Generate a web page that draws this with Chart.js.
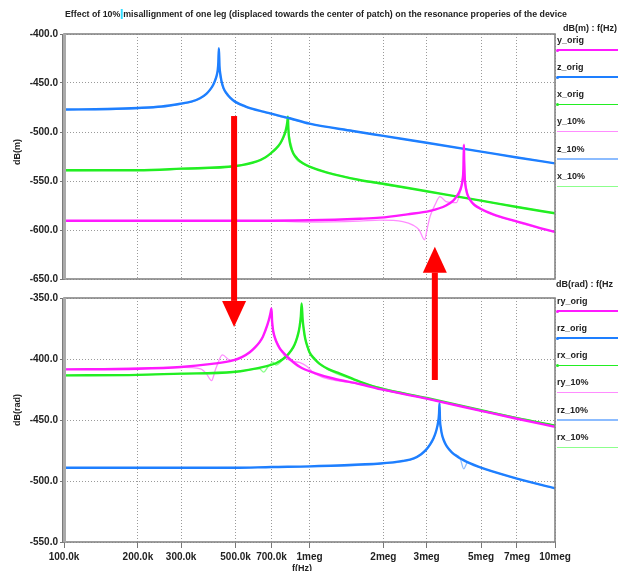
<!DOCTYPE html>
<html>
<head>
<meta charset="utf-8">
<script src="https://cdn.jsdelivr.net/npm/chart.js@4.4.0/dist/chart.umd.min.js"></script>
<style>
  html, body { margin: 0; padding: 0; background: #fff; }
  #page { position: relative; width: 618px; height: 571px; overflow: hidden;
          font-family: "Liberation Sans", Arial, sans-serif; font-weight: bold; color: #222; }
  #page canvas { position: absolute; left: 0; }
  #top-chart { top: 0; }
  #bottom-chart { top: 290px; }
  #arrows { top: 0; pointer-events: none; }
  .txt { position: absolute; white-space: nowrap; font-size: 9px; line-height: 10px; }
  .rot { transform: translate(-50%, -50%) rotate(-90deg); }
  .legend-line { position: absolute; height: 1.5px; }
  .legend-dot { position: absolute; width: 3px; height: 3px; border-radius: 50%; }
  #title .cursor { display: inline-block; width: 2px; height: 10px; background: #33ddff; vertical-align: -2px; margin: 0 1px 0 0; }
</style>
</head>
<body>
<div id="page">
  <canvas id="top-chart" width="618" height="290"></canvas>
  <canvas id="bottom-chart" width="618" height="281"></canvas>
  <canvas id="arrows" width="618" height="571"></canvas>
  <div id="title" class="txt" style="left:65px; top:9px;">Effect of 10%<span class="cursor"></span>misallignment of one leg (displaced towards the center of patch) on the resonance properies of the device</div>
  <div class="txt" style="right:1px; top:23px;">dB(m) : f(Hz)</div>
  <div class="txt" style="left:556px; top:279px;">dB(rad) : f(Hz</div>
  <div class="txt rot" style="left:17px; top:152px;">dB(m)</div>
  <div class="txt rot" style="left:17px; top:410px;">dB(rad)</div>
  <div class="txt" style="left:302px; top:563px; transform:translateX(-50%);">f(Hz)</div>
  <div id="legend-top"></div>
  <div id="legend-bottom"></div>
</div>
<script>
// x axis (log frequency)
const xTickVals = [1e5, 2e5, 3e5, 5e5, 7e5, 1e6, 2e6, 3e6, 5e6, 7e6, 1e7];
const xTickLabels = ['100.0k', '200.0k', '300.0k', '500.0k', '700.0k', '1meg', '2meg', '3meg', '5meg', '7meg', '10meg'];

// series names / colours (orig first, 10% after)
const topNames = ['y_orig', 'z_orig', 'x_orig', 'y_10%', 'z_10%', 'x_10%'];
const bottomNames = ['ry_orig', 'rz_orig', 'rx_orig', 'ry_10%', 'rz_10%', 'rx_10%'];
const lineColors = ['#ff1aff', '#1e7fff', '#22ee22', '#ff8cff', '#8cbcff', '#8cff8c'];

// ---- top panel dB(m) ----
const yOrigF = [1e5, 5e5, 1e6, 1.6e6, 1.94e6, 2.5e6, 3.1e6, 3.6e6, 3.85e6, 3.97e6, 4.08e6, 4.15e6, 4.2e6, 4.235e6, 4.255e6, 4.265e6, 4.28e6, 4.3e6, 4.34e6, 4.4e6, 4.5e6, 4.7e6, 4.95e6, 5.6e6, 6.7e6, 8.7e6, 1e7];
const yOrigV = [-590.5, -590.5, -590, -588.5, -587.4, -584, -580.5, -575, -570, -566, -561, -556, -549, -538, -513, -528, -542, -551, -558, -564, -569, -574.5, -578, -584, -590, -598, -602];

const zOrigF = [1e5, 1.5e5, 2e5, 2.5e5, 3e5, 3.3e5, 3.58e5, 3.8e5, 3.93e5, 4.05e5, 4.13e5, 4.19e5, 4.23e5, 4.255e5, 4.275e5, 4.3e5, 4.34e5, 4.38e5, 4.46e5, 4.59e5, 4.75e5, 4.97e5, 5.5e5, 6.48e5, 8.32e5, 1e6, 1.5e6, 2e6, 3e6, 5e6, 7e6, 1e7];
const zOrigV = [-477, -476.5, -475.5, -474, -471, -469, -465.6, -461, -457, -452, -447, -442, -436.7, -428, -414.6, -433, -442, -448, -455, -460.5, -465, -469, -474, -479.3, -486, -491.5, -499, -504, -511, -520, -526, -532];

const xOrigF = [1e5, 2e5, 3e5, 5e5, 6.1e5, 6.6e5, 6.93e5, 7.3e5, 7.6e5, 7.8e5, 7.95e5, 8.05e5, 8.12e5, 8.165e5, 8.19e5, 8.22e5, 8.27e5, 8.35e5, 8.45e5, 8.6e5, 8.9e5, 9.4e5, 1e6, 1.18e6, 1.6e6, 1.94e6, 3e6, 5e6, 7e6, 1e7];
const xOrigV = [-539, -539, -537.4, -534.7, -530, -526, -522, -517, -511.5, -506, -501, -495.5, -490, -484.5, -493, -501, -507, -513, -517.5, -522, -527, -532, -535.4, -541.5, -549, -552.3, -560.5, -570, -576.5, -583];

const y10F = [1e5, 7e5, 1e6, 1.6e6, 1.94e6, 2.4e6, 2.64e6, 2.8e6, 2.94e6, 3.02e6, 3.1e6, 3.25e6, 3.4e6, 3.6e6, 3.97e6, 4.1e6, 4.18e6, 4.225e6, 4.25e6, 4.262e6, 4.275e6, 4.3e6, 4.34e6, 4.4e6, 4.5e6, 4.95e6, 6.7e6, 8.7e6, 1e7];
const y10V = [-591, -591, -592, -591, -590, -591.5, -595, -600, -610, -598, -586, -574, -566, -571, -572, -562, -553, -542, -530, -516, -530, -545, -555, -563, -569.5, -578.5, -590.5, -598.5, -602.5];

const z10F = [1e5, 2e5, 3e5, 3.58e5, 3.93e5, 4.12e5, 4.2e5, 4.24e5, 4.265e5, 4.28e5, 4.31e5, 4.37e5, 4.46e5, 4.59e5, 4.97e5, 6.48e5, 1e6, 2e6, 3e6, 5e6, 1e7];
const z10V = [-477.5, -476, -471.5, -466, -457.5, -448, -441, -433, -418, -431, -441, -448, -455.5, -461, -469.5, -479.5, -491.5, -504, -511, -520, -532];

const x10F = [1e5, 3e5, 5e5, 6.1e5, 6.93e5, 7.6e5, 7.95e5, 8.07e5, 8.14e5, 8.175e5, 8.21e5, 8.3e5, 8.45e5, 8.6e5, 9.4e5, 1e6, 1.6e6, 3e6, 1e7];
const x10V = [-539.5, -537.8, -535, -530, -522.5, -512, -502, -495, -490, -487, -497, -506, -514, -522.5, -532.5, -535.6, -549, -560.5, -583];

// ---- bottom panel dB(rad) ----
const ryOrigF = [1e5, 2e5, 3e5, 4e5, 4.88e5, 5.3e5, 5.71e5, 6.0e5, 6.25e5, 6.45e5, 6.6e5, 6.75e5, 6.87e5, 6.95e5, 7.0e5, 7.04e5, 7.1e5, 7.2e5, 7.35e5, 7.55e5, 7.8e5, 8.3e5, 9.15e5, 1.05e6, 1.25e6, 1.6e6, 1.94e6, 3e6, 5e6, 7e6, 1e7];
const ryOrigV = [-408.5, -408, -406.6, -404, -401.2, -398.5, -394.5, -390.5, -386.4, -382, -377, -371.5, -366, -361.5, -358.5, -369, -376, -381.5, -386.5, -391, -394.5, -400, -406.6, -411.5, -416, -420.5, -424.7, -432.5, -442.5, -449, -455.5];

const rzOrigF = [1e5, 5e5, 7e5, 1e6, 1.6e6, 1.94e6, 2.4e6, 2.66e6, 2.85e6, 2.98e6, 3.1e6, 3.2e6, 3.28e6, 3.34e6, 3.37e6, 3.385e6, 3.4e6, 3.43e6, 3.47e6, 3.53e6, 3.62e6, 3.8e6, 4.2e6, 4.9e6, 7e6, 1e7];
const rzOrigV = [-489.2, -489.2, -488.5, -488, -486.5, -485.7, -483.5, -481.4, -478, -474.5, -470, -465, -459, -452, -445, -436.3, -450, -457, -462.5, -467, -471.5, -476.5, -482.5, -488.5, -498, -506];

const rxOrigF = [1e5, 2e5, 3e5, 4.88e5, 6.7e5, 7.3e5, 7.8e5, 8.2e5, 8.58e5, 8.8e5, 9e5, 9.12e5, 9.22e5, 9.29e5, 9.38e5, 9.48e5, 9.6e5, 9.8e5, 1.0e6, 1.05e6, 1.1e6, 1.2e6, 1.33e6, 1.6e6, 1.94e6, 3e6, 5e6, 7e6, 1e7];
const rxOrigV = [-413.4, -413, -412, -410.7, -405.8, -403.5, -400, -396, -390.5, -385.5, -379, -373, -365, -354.5, -368, -376, -383, -389.5, -394.5, -400, -404, -408.5, -412, -418.5, -424, -432, -442, -448.5, -454.5];

const ry10F = [1e5, 3e5, 3.6e5, 3.8e5, 3.99e5, 4.15e5, 4.42e5, 4.75e5, 5.2e5, 5.71e5, 6.25e5, 6.6e5, 6.87e5, 6.97e5, 7.01e5, 7.05e5, 7.12e5, 7.22e5, 7.55e5, 8e5, 8.58e5, 9.15e5, 9.74e5, 1.05e6, 1.6e6, 3e6, 1e7];
const ry10V = [-408.5, -406.8, -408, -412, -417.7, -408, -396.7, -401, -399.5, -394.5, -386.8, -377.5, -366.5, -362.5, -360, -369, -376.5, -381.5, -390, -399, -402, -403, -406, -412, -420.5, -432.5, -455.5];

const rz10F = [1e5, 1e6, 1.94e6, 2.66e6, 2.98e6, 3.1e6, 3.2e6, 3.28e6, 3.34e6, 3.37e6, 3.385e6, 3.4e6, 3.43e6, 3.47e6, 3.53e6, 3.8e6, 4.1e6, 4.25e6, 4.4e6, 4.9e6, 7e6, 1e7];
const rz10V = [-489.4, -488.2, -485.9, -481.6, -475, -470.5, -465.5, -459.5, -452.5, -445.5, -439, -450.5, -457.5, -463, -467.5, -476.7, -481, -490, -485, -488.7, -498.2, -506.2];

const rx10F = [1e5, 3e5, 4.88e5, 6.25e5, 6.5e5, 6.8e5, 7.1e5, 7.3e5, 7.8e5, 8.58e5, 8.8e5, 9e5, 9.12e5, 9.22e5, 9.29e5, 9.38e5, 9.48e5, 9.6e5, 1.0e6, 1.1e6, 1.6e6, 3e6, 1e7];
const rx10V = [-413.6, -412.2, -410.9, -408, -410.7, -406, -402.6, -405, -400.5, -391, -386, -379.5, -373.5, -366, -357, -368.5, -376.5, -383.5, -395, -404.2, -418.6, -432.1, -454.6];

// annotation arrows: freq, start panel/value, end (tip) panel/value
const arrowFreqs = [4.93e5, 3.24e6];
const arrowFrom = [['top', -483.7], ['bottom', -417.2]];
const arrowTo = [['bottom', -373.7], ['top', -617]];

const pts = (f, v) => f.map((x, i) => ({ x: x, y: v[i] }));

function makeDatasets(names, series) {
  return series.map((s, i) => ({
    label: names[i],
    data: pts(s[0], s[1]),
    borderColor: lineColors[i],
    backgroundColor: lineColors[i],
    borderWidth: i < 3 ? 2.4 : 1.3,
    pointRadius: 0,
    cubicInterpolationMode: 'monotone',
    fill: false
  }));
}

const tickFont = { family: 'Liberation Sans', size: 10, weight: 'bold' };

// gray frame round the plot, thick bar at the left
const framePlugin = {
  id: 'frame',
  afterDatasetsDraw(chart) {
    const { ctx, chartArea: a } = chart;
    ctx.save();
    ctx.strokeStyle = '#858585';
    ctx.lineWidth = 1.6;
    ctx.strokeRect(a.left, a.top, a.right - a.left, a.bottom - a.top);
    ctx.fillStyle = '#aaaaaa';
    ctx.fillRect(a.left - 2, a.top, 4, a.bottom - a.top);
    ctx.fillStyle = '#7a7a7a';
    ctx.fillRect(a.left - 2, a.top, 1, a.bottom - a.top);
    ctx.restore();
  }
};

function makeChart(canvas, datasets, yMin, yMax, showX) {
  return new Chart(canvas, {
    type: 'line',
    data: { datasets: datasets },
    plugins: [framePlugin],
    options: {
      responsive: false,
      animation: false,
      layout: { padding: showX ? { top: 5, right: 63, bottom: 0, left: 0 } : { top: 34, right: 63, bottom: 11, left: 0 } },
      plugins: { legend: { display: false }, tooltip: { enabled: false } },
      scales: {
        x: {
          type: 'logarithmic',
          min: 1e5,
          max: 1e7,
          afterBuildTicks: scale => { scale.ticks = xTickVals.map(v => ({ value: v })); },
          afterFit: scale => { scale.height = showX ? 29 : 0; },
          border: { display: false, dash: [1, 2] },
          grid: { color: '#9a9a9a', borderDash: [1, 2], lineWidth: 1, drawTicks: showX, tickLength: 6,
                  tickColor: '#777', tickBorderDash: [] },
          ticks: {
            display: showX,
            autoSkip: false,
            maxRotation: 0,
            padding: 3,
            color: '#222',
            font: tickFont,
            callback: (val, idx) => xTickLabels[idx]
          }
        },
        y: {
          min: yMin,
          max: yMax,
          afterFit: scale => { scale.width = 64; },
          border: { display: false, dash: [1, 2] },
          grid: { color: '#9a9a9a', borderDash: [1, 2], lineWidth: 1, tickLength: 4,
                  tickColor: '#777', tickBorderDash: [] },
          ticks: { stepSize: 50, padding: 2, color: '#222', font: tickFont, callback: v => v.toFixed(1) }
        }
      }
    }
  });
}

const topChart = makeChart(document.getElementById('top-chart'),
  makeDatasets(topNames, [[yOrigF, yOrigV], [zOrigF, zOrigV], [xOrigF, xOrigV], [y10F, y10V], [z10F, z10V], [x10F, x10V]]),
  -650, -400, false);

const bottomChart = makeChart(document.getElementById('bottom-chart'),
  makeDatasets(bottomNames, [[ryOrigF, ryOrigV], [rzOrigF, rzOrigV], [rxOrigF, rxOrigV], [ry10F, ry10V], [rz10F, rz10V], [rx10F, rx10V]]),
  -550, -350, true);

// legend blocks at the right of each panel
function buildLegend(el, names, top) {
  names.forEach((name, i) => {
    const y = top + i * 27.3;
    const label = document.createElement('div');
    label.className = 'txt';
    label.style.left = '557px';
    label.style.top = (y - 5) + 'px';
    label.textContent = name;
    el.appendChild(label);
    const line = document.createElement('div');
    line.className = 'legend-line';
    line.style.left = '557px';
    line.style.width = '61px';
    line.style.top = (y + 9.5) + 'px';
    line.style.background = lineColors[i];
    el.appendChild(line);
    if (i < 3) {
      const dot = document.createElement('div');
      dot.className = 'legend-dot';
      dot.style.left = '556px';
      dot.style.top = (y + 9) + 'px';
      dot.style.background = lineColors[i];
      el.appendChild(dot);
    }
  });
}
buildLegend(document.getElementById('legend-top'), topNames, 39.5);
buildLegend(document.getElementById('legend-bottom'), bottomNames, 300.5);

// squeeze the title into its width
const titleEl = document.getElementById('title');
const titleW = titleEl.getBoundingClientRect().width;
titleEl.style.transformOrigin = 'left top';
titleEl.style.transform = 'scaleX(' + (502 / titleW) + ')';

// red arrows across the two panels
function panelY(panel, v) {
  return panel === 'top' ? topChart.scales.y.getPixelForValue(v) : 290 + bottomChart.scales.y.getPixelForValue(v);
}
const actx = document.getElementById('arrows').getContext('2d');
actx.fillStyle = '#ff0000';
arrowFreqs.forEach((f, i) => {
  const x = topChart.scales.x.getPixelForValue(f);
  const y0 = panelY(arrowFrom[i][0], arrowFrom[i][1]);
  const y1 = panelY(arrowTo[i][0], arrowTo[i][1]);
  const dir = y1 > y0 ? 1 : -1;
  const headLen = 26, headHalf = 12, shaftHalf = 3;
  const yb = y1 - dir * headLen;
  actx.fillRect(x - shaftHalf, Math.min(y0, yb), shaftHalf * 2, Math.abs(yb - y0));
  actx.beginPath();
  actx.moveTo(x - headHalf, yb);
  actx.lineTo(x + headHalf, yb);
  actx.lineTo(x, y1);
  actx.closePath();
  actx.fill();
});
</script>
</body>
</html>
